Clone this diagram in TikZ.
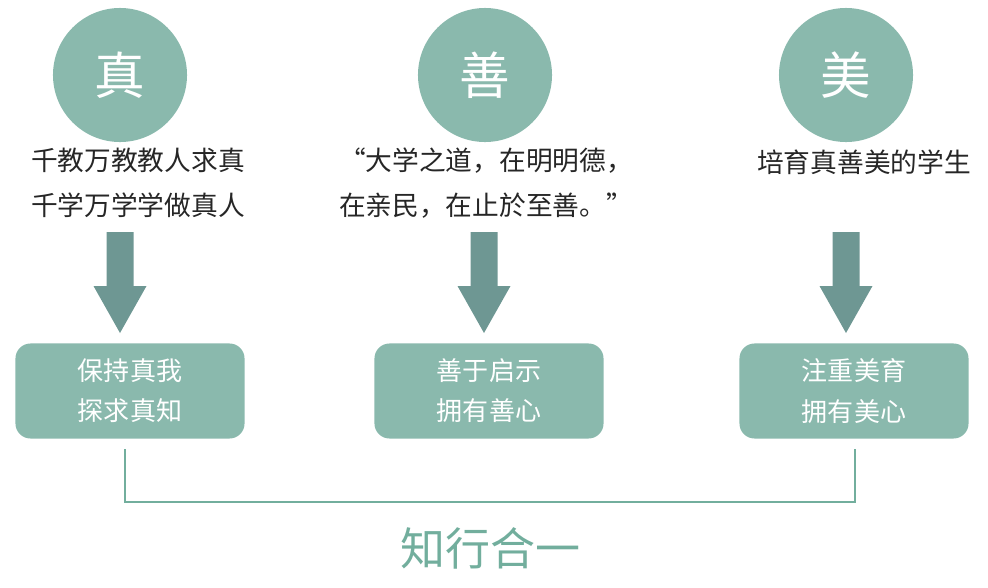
\documentclass[tikz,border=0pt]{standalone}
\usepackage{fontspec}
\setmainfont{Noto Sans CJK SC}
\usetikzlibrary{positioning, calc}
\definecolor{jade}{HTML}{8AB9AD}
\definecolor{jadedark}{HTML}{6E9793}
\definecolor{jadeline}{HTML}{72AE9D}

\begin{document}
\begin{tikzpicture}[x=0.025cm, y=-0.025cm,
  badge/.style={circle, fill=jade, minimum size=3.35cm, inner sep=0pt, text=white, font=\fontsize{36}{36}\selectfont},
  motto/.style={align=center, text=black!85, font=\fontsize{19}{32}\selectfont},
  goalbox/.style={rounded corners=0.375cm, fill=jade, minimum width=5.725cm, minimum height=2.375cm, align=center, text=white, font=\fontsize{18.5}{28.5}\selectfont},
  bracket/.style={jadeline, line width=1.6pt}]
  \useasboundingbox (0,0) rectangle (988,587);
  % Badges
  \node[badge] (zhen) at (120,75) {真};
  \node[badge] (shan) at (485,75) {善};
  \node[badge] (mei)  at (846,75) {美};
  % Mottos
  \node[motto] (m1) at (138,183) {千教万教教人求真\\千学万学学做真人};
  \node[motto] (m2) at (486,183) {“大学之道，在明明德，\\在亲民，在止於至善。”};
  \node[motto] (m3) at (864,162) {培育真善美的学生};
  % Goals
  \node[goalbox] (g1) at (130,391) {保持真我\\探求真知};
  \node[goalbox] (g2) at (489,391) {善于启示\\拥有善心};
  \node[goalbox] (g3) at (854,391) {注重美育\\拥有美心};
  % Block arrows
  \foreach \x in {120, 484, 846}
    \fill[jadedark] (\x-13.5,232) -- (\x+13.5,232) -- (\x+13.5,286) -- (\x+26.5,286)
      -- (\x,333) -- (\x-26.5,286) -- (\x-13.5,286) -- cycle;
  % Bracket
  \coordinate (bl) at (125,449);
  \coordinate (br) at (855,449);
  \draw[bracket] (bl) -- ++(0,53) -| (br);
  \node[text=jadeline, font=\fontsize{32}{32}\selectfont] (unity) at (490,548) {知行合一};
\end{tikzpicture}
\end{document}
